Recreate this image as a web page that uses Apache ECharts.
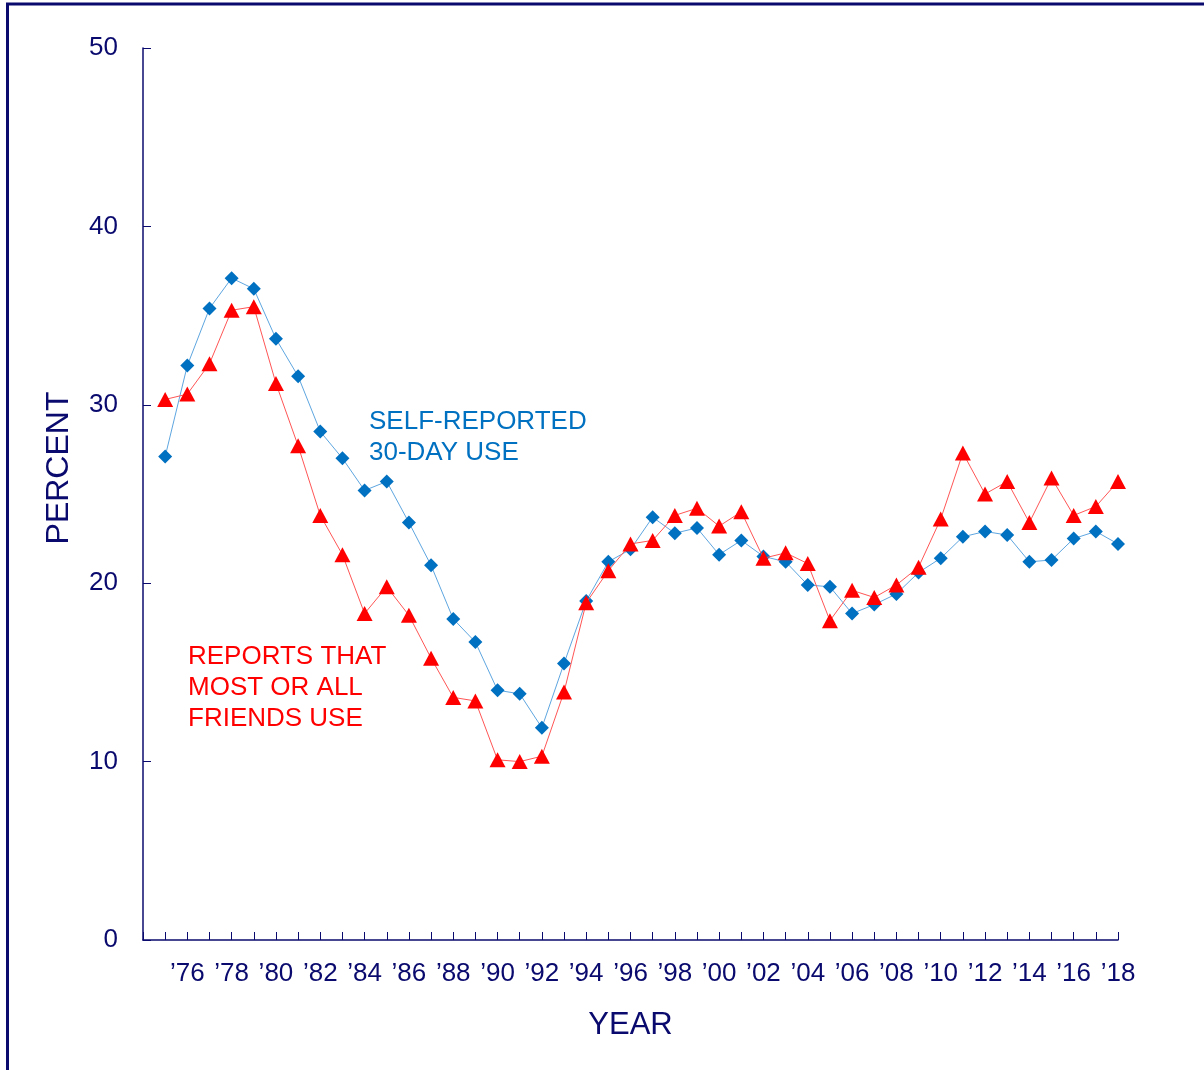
<!DOCTYPE html>
<html>
<head>
<meta charset="utf-8">
<script src="https://cdn.jsdelivr.net/npm/echarts@6/dist/echarts.min.js"></script>
<style>
html,body{margin:0;padding:0;background:#fff;}
#chart{width:1204px;height:1070px;}
</style>
</head>
<body>
<div id="chart"></div>
<script>
var years = [1975,1976,1977,1978,1979,1980,1981,1982,1983,1984,1985,1986,1987,1988,1989,1990,1991,1992,1993,1994,1995,1996,1997,1998,1999,2000,2001,2002,2003,2004,2005,2006,2007,2008,2009,2010,2011,2012,2013,2014,2015,2016,2017,2018];
var selfReported = [27.1,32.2,35.4,37.1,36.5,33.7,31.6,28.5,27.0,25.2,25.7,23.4,21.0,18.0,16.7,14.0,13.8,11.9,15.5,19.0,21.2,21.9,23.7,22.8,23.1,21.6,22.4,21.5,21.2,19.9,19.8,18.3,18.8,19.4,20.6,21.4,22.6,22.9,22.7,21.2,21.3,22.5,22.9,22.2];
var friendsUse = [30.3,30.6,32.3,35.3,35.5,31.2,27.7,23.8,21.6,18.3,19.8,18.2,15.8,13.6,13.4,10.1,10.0,10.3,13.9,18.9,20.7,22.2,22.4,23.8,24.2,23.2,24.0,21.4,21.7,21.1,17.9,19.6,19.2,19.9,20.9,23.6,27.3,25.0,25.7,23.4,25.9,23.8,24.3,25.7];
var yTicks = [0,10,20,30,40,50];
var seriesNames = ['SELF-REPORTED\n30-DAY USE','REPORTS THAT\nMOST OR ALL\nFRIENDS USE'];

var navy = '#0a0a6e';
var FONT = 'Liberation Sans, Arial, sans-serif';

function pairs(vals){ return years.map(function(y,i){ return [y, vals[i]]; }); }

var chart = echarts.init(document.getElementById('chart'), null, {renderer:'canvas'});
chart.setOption({
  backgroundColor:'#ffffff',
  animation:false,
  grid:{left:143, right:86, top:48, bottom:130},
  xAxis:{
    type:'value', min:1974, max:2018, interval:1,
    axisLine:{lineStyle:{color:navy, width:1.5}},
    axisTick:{inside:true, length:8, lineStyle:{color:navy, width:1}},
    splitLine:{show:false},
    axisLabel:{
      margin:21, color:navy, fontSize:26, fontFamily:FONT,
      showMinLabel:true, showMaxLabel:true,
      formatter:function(v){ return (v % 2 === 0 && v >= 1976) ? '\u2019' + String(v).slice(2) : ''; }
    },
    name:'YEAR', nameLocation:'middle', nameGap:70,
    nameTextStyle:{color:navy, fontSize:31, fontFamily:FONT}
  },
  yAxis:{
    type:'value', min:yTicks[0], max:yTicks[yTicks.length-1], interval:10,
    axisLine:{show:true, lineStyle:{color:navy, width:1.5}},
    axisTick:{show:true, inside:true, length:8, lineStyle:{color:navy, width:1}},
    splitLine:{show:false},
    axisLabel:{margin:25, color:navy, fontSize:26, fontFamily:FONT}
  },
  graphic:[
    {type:'rect', shape:{x:7.5, y:4, width:1400, height:1300}, style:{fill:'none', stroke:navy, lineWidth:3}, silent:true, z:100},
    {type:'text', x:59, y:468, rotation:Math.PI/2, style:{text:'PERCENT', fill:navy, fontSize:32, fontFamily:FONT, align:'center', verticalAlign:'middle'}},
    {type:'text', x:369, y:406, style:{text:seriesNames[0], fill:'#0070C0', fontSize:26, fontFamily:FONT, lineHeight:31, align:'left', verticalAlign:'top'}},
    {type:'text', x:188, y:641, style:{text:seriesNames[1], fill:'#FF0000', fontSize:26, fontFamily:FONT, lineHeight:31, align:'left', verticalAlign:'top'}}
  ],
  series:[
    {
      name:'SELF-REPORTED 30-DAY USE', type:'line', data:pairs(selfReported),
      symbol:'diamond', symbolSize:14,
      lineStyle:{color:'#5ea6e0', width:1},
      itemStyle:{color:'#0070C0'},
      z:2
    },
    {
      name:'REPORTS THAT MOST OR ALL FRIENDS USE', type:'line', data:pairs(friendsUse),
      symbol:'triangle', symbolSize:[16,15],
      lineStyle:{color:'#ff5555', width:1},
      itemStyle:{color:'#FF0000'},
      z:3
    }
  ]
});
</script>
</body>
</html>
